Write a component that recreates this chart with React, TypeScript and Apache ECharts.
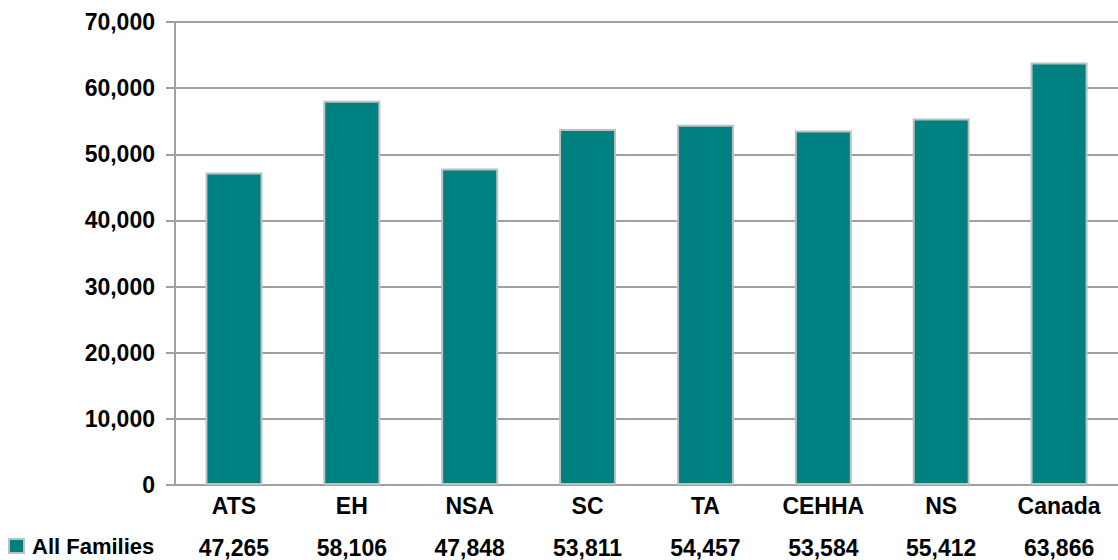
import React, { useEffect, useRef } from "react";
import * as echarts from "echarts";

const categories = ["ATS", "EH", "NSA", "SC", "TA", "CEHHA", "NS", "Canada"];
const seriesName = "All Families";
const values = [47265, 58106, 47848, 53811, 54457, 53584, 55412, 63866];
const yTicks = { min: 0, max: 70000, interval: 10000 };

const fmt = (v: number) => v.toLocaleString("en-US");

const FONT = "'Liberation Sans', Arial, sans-serif";
const GRID_GRAY = "#a0a0a0";

export default function App() {
  const ref = useRef<HTMLDivElement>(null);

  useEffect(() => {
    if (!ref.current) return;
    const chart = echarts.init(ref.current, undefined, { renderer: "svg" });
    const labelStyle = {
      fontFamily: FONT,
      fontWeight: "bold" as const,
      fontSize: 23,
      color: "#000",
    };
    chart.setOption({
      animation: false,
      backgroundColor: "#fff",
      grid: { left: 175, top: 22, width: 952, height: 463, containLabel: false },
      legend: {
        left: 8,
        top: 535,
        icon: "rect",
        itemWidth: 15,
        itemHeight: 14,
        itemGap: 0,
        padding: 0,
        data: [seriesName],
        textStyle: { ...labelStyle, fontSize: 22, padding: [0, 0, 0, 3] },
      },
      xAxis: [
        {
          type: "category",
          data: categories,
          position: "bottom",
          axisLine: { show: true, lineStyle: { color: GRID_GRAY, width: 2 } },
          axisTick: { show: false },
          axisLabel: { ...labelStyle, margin: 9, interval: 0 },
        },
        {
          type: "category",
          data: values.map(fmt),
          position: "bottom",
          offset: 42,
          axisLine: { show: false },
          axisTick: { show: false },
          axisLabel: { ...labelStyle, margin: 9, interval: 0 },
        },
      ],
      yAxis: {
        type: "value",
        min: yTicks.min,
        max: yTicks.max,
        interval: yTicks.interval,
        axisLine: { show: true, lineStyle: { color: GRID_GRAY, width: 2 } },
        axisTick: { show: true, length: 9, lineStyle: { color: GRID_GRAY, width: 2 } },
        splitLine: { show: true, lineStyle: { color: GRID_GRAY, width: 2 } },
        axisLabel: { ...labelStyle, margin: 20, formatter: (v: number) => fmt(v) },
      },
      series: [
        {
          name: seriesName,
          type: "bar",
          xAxisIndex: 0,
          data: values,
          barWidth: 57,
          itemStyle: { color: "#008080", borderColor: "#c0c0c0", borderWidth: 2 },
        },
      ],
    });
    return () => chart.dispose();
  }, []);

  return (
    <div
      ref={ref}
      style={{ position: "absolute", left: 0, top: 0, width: 1118, height: 560 }}
    />
  );
}
